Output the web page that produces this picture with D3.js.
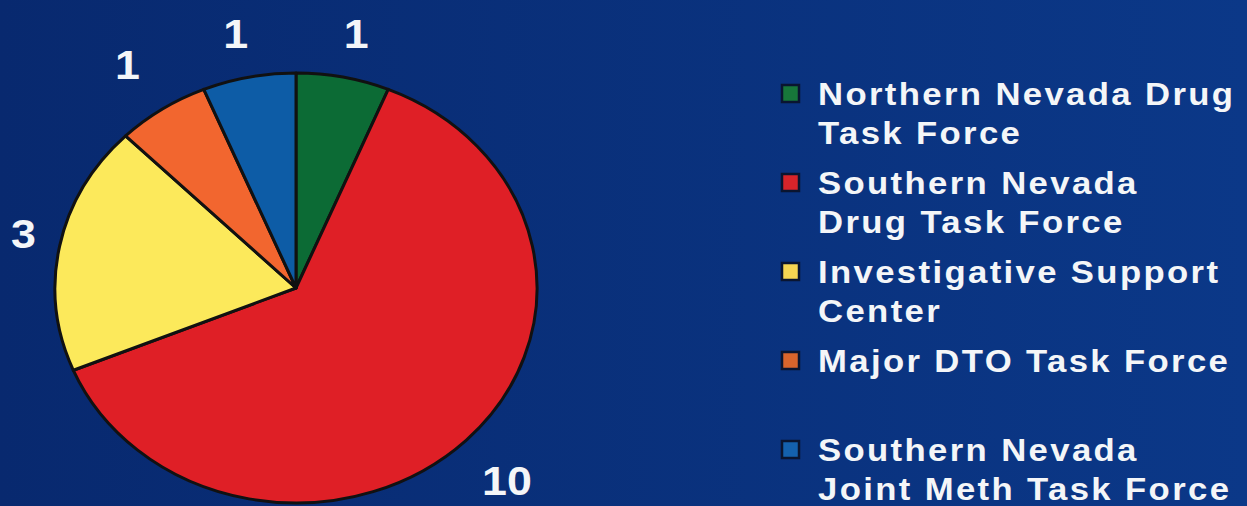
<!DOCTYPE html>
<html>
<head>
<meta charset="utf-8">
<script src="https://cdn.jsdelivr.net/npm/d3@7"></script>
<style>
  html, body { margin: 0; padding: 0; background: #0a2d78; overflow: hidden; }
  text { font-family: "Liberation Sans", Arial, sans-serif; font-weight: bold; }
</style>
</head>
<body>
<script>
const categories = [
    "Northern Nevada Drug Task Force",
    "Southern Nevada Drug Task Force",
    "Investigative Support Center",
    "Major DTO Task Force",
    "Southern Nevada Joint Meth Task Force"
];
const values = [1, 10, 3, 1, 1];
const legendLines = [
    ["Northern Nevada Drug", "Task Force"],
    ["Southern Nevada", "Drug Task Force"],
    ["Investigative Support", "Center"],
    ["Major DTO Task Force", ""],
    ["Southern Nevada", "Joint Meth Task Force"]
];
const sliceColors = ["#0c6b35", "#df1f26", "#fce95b", "#f2662f", "#0d5ca6"];
const keyColors = ["#17773a", "#d8242a", "#f6d652", "#d9652c", "#1461ad"];

const width = 1247, height = 506;
const cx = 296, cy = 288, rx = 241, ry = 215;
const stretch = 1.12; // the slide is a bit wider than tall

const svg = d3.select("body")
    .append("svg")
    .attr("width", width)
    .attr("height", height);

// background
const grad = svg.append("defs").append("linearGradient")
    .attr("id", "bg")
    .attr("x1", "0").attr("y1", "0").attr("x2", "1").attr("y2", "0");
grad.append("stop").attr("offset", "0").attr("stop-color", "#08296f");
grad.append("stop").attr("offset", "1").attr("stop-color", "#0b3888");

svg.append("rect")
    .attr("width", width)
    .attr("height", height)
    .attr("fill", "url(#bg)");

// pie, drawn as a circle then stretched into the ellipse
const pie = d3.pie().sort(null).value(d => d);
const arcs = pie(values);
const arc = d3.arc().innerRadius(0).outerRadius(ry);

svg.append("g")
    .attr("transform", `translate(${cx},${cy}) scale(${rx / ry},1)`)
    .selectAll("path")
    .data(arcs)
    .enter()
    .append("path")
    .attr("d", arc)
    .attr("fill", (d, i) => sliceColors[i])
    .attr("stroke", "#111")
    .attr("stroke-width", 3)
    .attr("stroke-linejoin", "round")
    .attr("vector-effect", "non-scaling-stroke");

// value labels outside the slices
const capH = 29;
svg.selectAll("text.val")
    .data(arcs)
    .enter()
    .append("text")
    .attr("class", "val")
    .text(d => d.value)
    .attr("fill", "#f4f6f8")
    .style("font-size", "40px")
    .attr("text-anchor", "middle")
    .attr("transform", d => {
        const a = (d.startAngle + d.endAngle) / 2;
        const s = Math.sin(a), c = Math.cos(a);
        const x = cx + s * (rx + 29 + 40 * Math.abs(c));
        const y = cy - c * (ry + 40 + 25 * Math.abs(s)) + capH / 2;
        return `translate(${x},${y}) scale(${stretch},1)`;
    });

// legend
const legend = svg.append("g");
const item = legend.selectAll("g")
    .data(categories)
    .enter()
    .append("g")
    .attr("transform", (d, i) => `translate(0,${105 + i * 89})`);

item.append("rect")
    .attr("x", 782)
    .attr("y", -20)
    .attr("width", 17)
    .attr("height", 17)
    .attr("fill", (d, i) => keyColors[i])
    .attr("stroke", "#0a1530")
    .attr("stroke-width", 2.5);

item.each(function (d, i) {
    const t = d3.select(this).append("text")
        .attr("transform", `translate(818,0) scale(${stretch},1)`)
        .attr("fill", "#f4f6f8")
        .style("font-size", "31px")
        .style("letter-spacing", "2.1px");
    legendLines[i].forEach((line, j) => {
        t.append("tspan")
            .attr("x", 0)
            .attr("y", j * 39)
            .text(line);
    });
});
</script>
</body>
</html>
